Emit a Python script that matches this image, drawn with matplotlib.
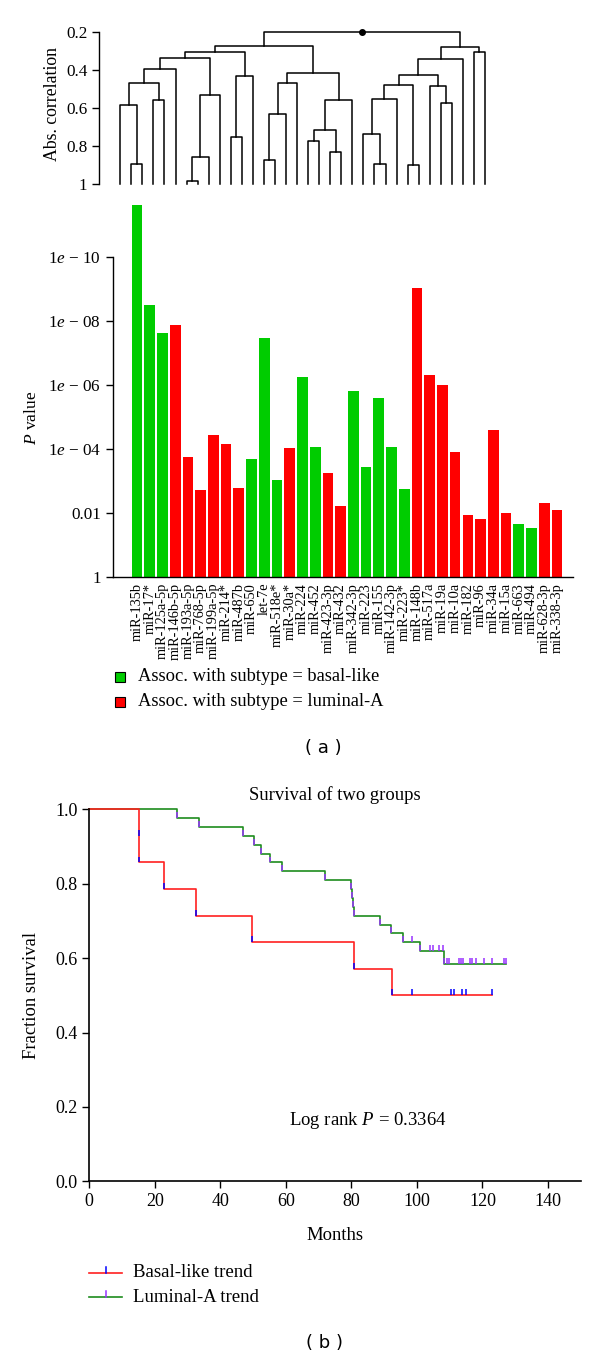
import matplotlib
matplotlib.use('Agg')
import matplotlib.pyplot as plt
from matplotlib.lines import Line2D
from matplotlib.patches import Rectangle
import numpy as np

plt.rcParams.update({
    'font.family': 'Liberation Serif',
    'mathtext.fontset': 'custom',
    'mathtext.rm': 'Liberation Serif',
    'mathtext.it': 'Liberation Serif:italic',
    'axes.linewidth': 1.0,
})

# ---------------- data ----------------
# dendrogram merges: (left node, right node, abs. correlation); leaves are 0..33, new nodes 34..
merges = [
    (1, 2, 0.895), (0, 34, 0.588), (3, 4, 0.561), (35, 36, 0.472), (37, 5, 0.396),
    (6, 7, 0.988), (39, 8, 0.861), (40, 9, 0.533), (38, 41, 0.337),
    (10, 11, 0.753), (43, 12, 0.432), (42, 44, 0.305),
    (13, 14, 0.875), (46, 15, 0.632), (47, 16, 0.468),
    (17, 18, 0.777), (19, 20, 0.832), (49, 50, 0.716), (51, 21, 0.560),
    (48, 52, 0.419), (45, 53, 0.274),
    (23, 24, 0.895), (22, 55, 0.739), (56, 25, 0.553), (26, 27, 0.900),
    (57, 58, 0.481), (29, 30, 0.577), (28, 60, 0.484), (59, 61, 0.426),
    (62, 31, 0.344), (32, 33, 0.309), (63, 64, 0.279), (54, 65, 0.200),
]

mirnas = ['miR-135b', 'miR-17*', 'miR-125a-5p', 'miR-146b-5p', 'miR-193a-5p', 'miR-768-5p',
          'miR-199a-5p', 'miR-214*', 'miR-487b', 'miR-650', 'let-7e', 'miR-518e*', 'miR-30a*',
          'miR-224', 'miR-452', 'miR-423-3p', 'miR-432', 'miR-342-3p', 'miR-223', 'miR-155',
          'miR-142-3p', 'miR-223*', 'miR-148b', 'miR-517a', 'miR-19a', 'miR-10a', 'miR-182',
          'miR-96', 'miR-34a', 'miR-15a', 'miR-663', 'miR-494', 'miR-628-3p', 'miR-338-3p']
p_values = [2.5e-12, 3.2e-9, 2.4e-8, 1.35e-8, 1.8e-4, 1.9e-3, 3.7e-5, 7.1e-5, 1.6e-3, 2.0e-4,
            3.5e-8, 9.5e-4, 9.3e-5, 5.5e-7, 8.7e-5, 5.5e-4, 5.9e-3, 1.5e-6, 3.7e-4, 2.6e-6,
            8.9e-5, 1.8e-3, 9.3e-10, 4.8e-7, 1.0e-6, 1.26e-4, 1.17e-2, 1.5e-2, 2.5e-5, 1.0e-2,
            2.2e-2, 2.9e-2, 4.8e-3, 8.1e-3]
subtype = ['B', 'B', 'B', 'L', 'L', 'L', 'L', 'L', 'L', 'B', 'B', 'B', 'L', 'B', 'B', 'L', 'L',
           'B', 'B', 'B', 'B', 'B', 'L', 'L', 'L', 'L', 'L', 'L', 'L', 'L', 'B', 'B', 'L', 'L']
p_ticks = ['1', '0.01', r'1$\mathit{e}$ − 04', r'1$\mathit{e}$ − 06',
           r'1$\mathit{e}$ − 08', r'1$\mathit{e}$ − 10']

basal_event_months = [15.2, 15.2, 22.8, 32.6, 49.8, 80.8, 92.3]
basal_surv = [0.929, 0.857, 0.786, 0.714, 0.643, 0.571, 0.500]
basal_censor_months = [98.4, 110.4, 111.4, 113.9, 114.9, 122.8]

luminal_event_months = [26.9, 33.4, 47.0, 50.2, 52.5, 55.1, 58.9, 72.0, 79.8, 80.2, 80.5,
                        80.8, 88.8, 92.1, 95.7, 100.9, 108.3]
luminal_surv = [0.976, 0.952, 0.929, 0.905, 0.881, 0.857, 0.833, 0.810, 0.786, 0.762, 0.738,
                0.714, 0.690, 0.667, 0.643, 0.619, 0.585]
luminal_censor_months = [98.4, 104.0, 104.8, 106.7, 107.9, 109.1, 109.7, 112.8, 113.4, 114.2,
                         116.2, 116.8, 117.9, 120.6, 122.8, 126.5, 127.1]

GREEN, RED = '#00CC00', '#FF0000'

W, H = 600, 1360
fig = plt.figure(figsize=(W / 100, H / 100), dpi=100)


def px_axes(left, top, right, bottom):
    return fig.add_axes([left / W, 1 - bottom / H, (right - left) / W, (bottom - top) / H])


def ftext(x, y, s, **kw):
    fig.text(x / W, 1 - y / H, s, **kw)


# ========== dendrogram ==========
axd = px_axes(99.3, 31.7, 500, 183.7)
pos = {i: float(i) for i in range(len(mirnas))}
hgt = {i: 1.0 for i in range(len(mirnas))}
for k, (a, b, h) in enumerate(merges):
    node = len(mirnas) + k
    axd.plot([pos[a], pos[a], pos[b], pos[b]], [hgt[a], h, h, hgt[b]],
             color='black', lw=1.1, clip_on=False)
    pos[node] = (pos[a] + pos[b]) / 2
    hgt[node] = h
root = len(mirnas) + len(merges) - 1
axd.plot(pos[root], hgt[root], 'o', color='black', ms=4, clip_on=False)
axd.set_xlim(-1.9, 34.36)
axd.set_ylim(1.0, 0.2)
for s in ['top', 'right', 'bottom']:
    axd.spines[s].set_visible(False)
axd.spines['left'].set_bounds(1.0, 0.2)
axd.set_xticks([])
axd.set_yticks([0.2, 0.4, 0.6, 0.8, 1.0])
axd.set_yticklabels(['0.2', '0.4', '0.6', '0.8', '1'], fontsize=12.3)
axd.tick_params(axis='y', length=5, width=1.0)
ftext(52.5, 104, 'Abs. correlation', rotation=90, ha='center', va='center', fontsize=12.8)

# ========== p-value bars ==========
axb = px_axes(113, 192.6, 573, 577.3)
idx = np.arange(len(mirnas))
colors = [GREEN if s == 'B' else RED for s in subtype]
axb.bar(idx, -np.log10(p_values), width=0.84, color=colors, linewidth=0)
axb.set_xlim(-1.885, 34.26)
axb.set_ylim(0, 12)
for s in ['top', 'right']:
    axb.spines[s].set_visible(False)
axb.spines['left'].set_bounds(0, 10)
axb.set_yticks([0, 2, 4, 6, 8, 10])
axb.set_yticklabels(p_ticks, fontsize=12.3)
axb.tick_params(axis='y', length=5, width=1.0)
axb.set_xticks(idx)
axb.set_xticklabels(mirnas, rotation=90, fontsize=10.4)
axb.tick_params(axis='x', length=0, pad=4)
ftext(32, 418, r'$\mathit{P}$ value', rotation=90, ha='center', va='center', fontsize=12.6)

# legend (a)
for yy, col, lab in [(676.7, GREEN, 'Assoc. with subtype = basal-like'),
                     (701.7, RED, 'Assoc. with subtype = luminal-A')]:
    fig.patches.append(Rectangle((115 / W, 1 - (yy + 5) / H), 10 / W, 10 / H,
                                 transform=fig.transFigure, facecolor=col,
                                 edgecolor='black', lw=0.8))
    ftext(137.7, yy, lab, ha='left', va='center', fontsize=13.3)
ftext(323, 748, '( a )', ha='center', va='center', fontsize=13, family='DejaVu Sans')

# ========== survival ==========
axs = px_axes(89.3, 809.3, 580.7, 1181.3)


def km(ax, ev, sv, cen, line_col, mark_col):
    end = max(cen) if cen else ev[-1]
    xs = [0] + list(ev) + [end]
    ys = [1.0] + list(sv) + [sv[-1]]
    ax.step(xs, ys, where='post', color=line_col, lw=1.2, clip_on=False)
    ax.vlines(ev, sv, np.array(sv) + 0.016, color=mark_col, lw=1.1)
    cy = [sv[np.searchsorted(ev, c, side='right') - 1] for c in cen]
    ax.vlines(cen, cy, np.array(cy) + 0.016, color=mark_col, lw=1.1)


km(axs, luminal_event_months, luminal_surv, luminal_censor_months, '#1E8C1E', '#9933FF')
km(axs, basal_event_months, basal_surv, basal_censor_months, '#FF2020', '#0000FF')
axs.set_xlim(0, 150)
axs.set_ylim(0, 1)
for s in ['top', 'right']:
    axs.spines[s].set_visible(False)
axs.spines['left'].set_linewidth(1.2)
axs.spines['bottom'].set_linewidth(1.2)
axs.set_xticks(np.arange(0, 141, 20))
axs.set_yticks(np.arange(0, 1.01, 0.2))
axs.set_yticklabels([f'{v:.1f}' for v in np.arange(0, 1.01, 0.2)])
axs.tick_params(labelsize=13, length=5, width=1.0)
axs.text(85.1, 0.164, r'Log rank $\mathit{P}$ = 0.3364', ha='center', va='center', fontsize=13.5)
ftext(335, 795, 'Survival of two groups', ha='center', va='center', fontsize=13.4)
ftext(335, 1235, 'Months', ha='center', va='center', fontsize=13.4)
ftext(31, 995, 'Fraction survival', rotation=90, ha='center', va='center', fontsize=13.4)

# legend (b)
for yy, lc, mc, lab in [(1272.5, '#FF2020', '#0000FF', 'Basal-like trend'),
                        (1297, '#1E8C1E', '#9933FF', 'Luminal-A trend')]:
    fig.add_artist(Line2D([89 / W, 122 / W], [1 - yy / H, 1 - yy / H],
                          transform=fig.transFigure, color=lc, lw=1.2))
    fig.add_artist(Line2D([105.5 / W, 105.5 / W], [1 - yy / H, 1 - (yy - 6) / H],
                          transform=fig.transFigure, color=mc, lw=1.1))
    ftext(133, yy, lab, ha='left', va='center', fontsize=13.5)
ftext(324, 1343, '( b )', ha='center', va='center', fontsize=13, family='DejaVu Sans')

fig.savefig('out.png', dpi=100)
